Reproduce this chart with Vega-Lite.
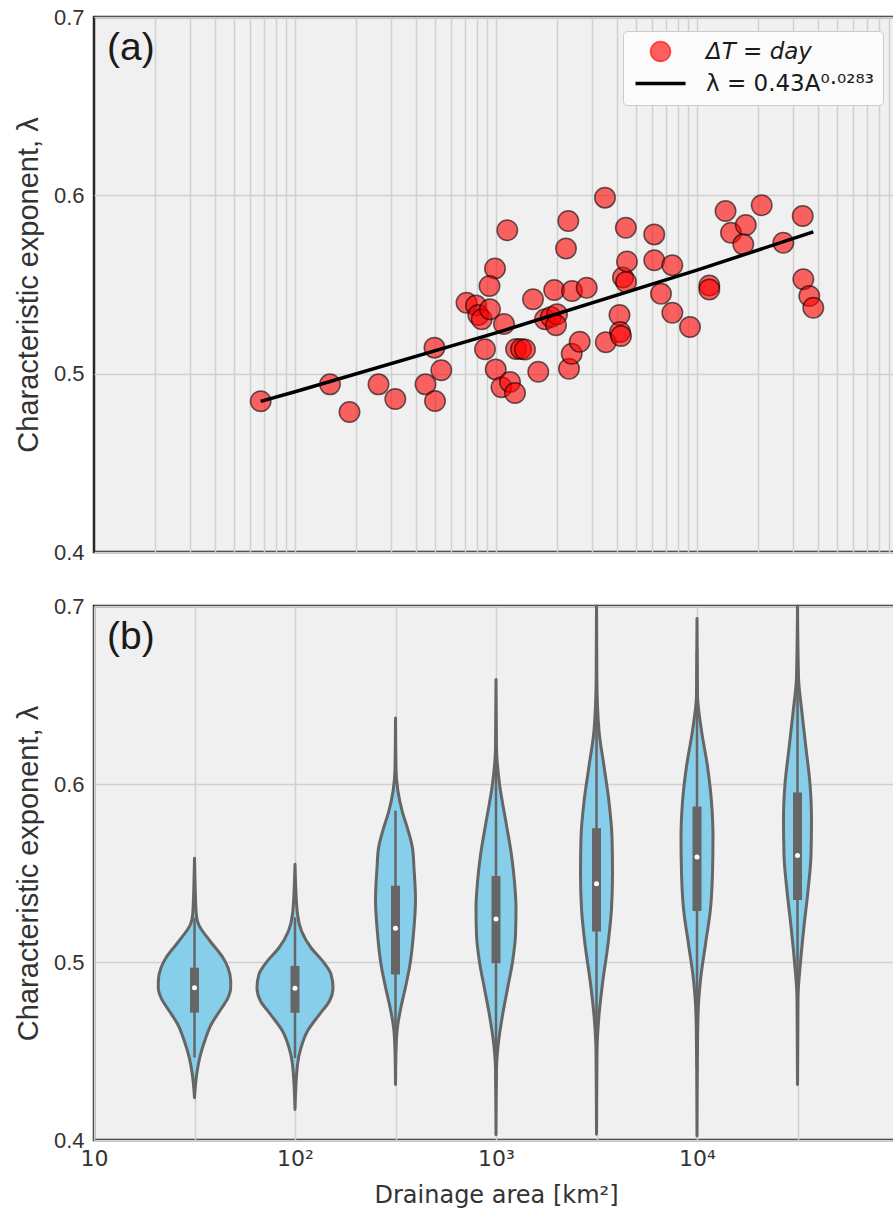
{
  "$schema": "https://vega.github.io/schema/vega-lite/v6.json",
  "padding": {"left": 13, "top": 4, "right": 0, "bottom": 4},
  "spacing": 28,
  "config": {
    "font": "Liberation Sans",
    "view": {"fill": "#f0f0f0", "stroke": "#262626", "strokeWidth": 2.5},
    "axis": {
      "gridColor": "#d0d0d0", "gridWidth": 1.5, "gridOpacity": 1,
      "ticks": false, "domain": false,
      "labelColor": "#333333", "titleColor": "#333333",
      "labelFont": "Liberation Sans", "titleFont": "Liberation Sans",
      "labelFontSize": 22, "titleFontSize": 29, "titleFontWeight": "normal"
    },
    "title": {"font": "Liberation Sans", "fontSize": 39, "fontWeight": "normal", "color": "#1a1a1a", "anchor": "start", "frame": "group", "baseline": "alphabetic", "offset": -62, "dx": 13}
  },
  "resolve": {"scale": {"color": "independent"}, "legend": {"color": "independent"}},
  "datasets": {
    "stations": [
      {"A": 67.5, "lam": 0.4845}, {"A": 149.3, "lam": 0.4940}, {"A": 186.7, "lam": 0.4785},
      {"A": 260.3, "lam": 0.4940}, {"A": 315.5, "lam": 0.4858}, {"A": 445.9, "lam": 0.4940},
      {"A": 497.2, "lam": 0.4847}, {"A": 534.3, "lam": 0.5019}, {"A": 494.3, "lam": 0.5146},
      {"A": 713.4, "lam": 0.5398}, {"A": 795.3, "lam": 0.5382}, {"A": 816.5, "lam": 0.5329},
      {"A": 849, "lam": 0.5305}, {"A": 933.4, "lam": 0.5361}, {"A": 1096, "lam": 0.5279},
      {"A": 988.6, "lam": 0.5590}, {"A": 928.2, "lam": 0.5492}, {"A": 1138, "lam": 0.5804},
      {"A": 881.7, "lam": 0.5137}, {"A": 996.6, "lam": 0.5024}, {"A": 1065, "lam": 0.4924},
      {"A": 1174, "lam": 0.4953}, {"A": 1243, "lam": 0.4892}, {"A": 1258, "lam": 0.5138},
      {"A": 1332, "lam": 0.5138}, {"A": 1394, "lam": 0.5136}, {"A": 1528, "lam": 0.5417},
      {"A": 1623, "lam": 0.5011}, {"A": 1753, "lam": 0.5305}, {"A": 1877, "lam": 0.5318},
      {"A": 2012, "lam": 0.5333}, {"A": 1989, "lam": 0.5271}, {"A": 1948, "lam": 0.5469},
      {"A": 2230, "lam": 0.5702}, {"A": 2289, "lam": 0.5856}, {"A": 2308, "lam": 0.5028},
      {"A": 2380, "lam": 0.5112}, {"A": 2389, "lam": 0.5464}, {"A": 2609, "lam": 0.5179},
      {"A": 2827, "lam": 0.5482}, {"A": 3485, "lam": 0.5987}, {"A": 3517, "lam": 0.5176},
      {"A": 4115, "lam": 0.5329}, {"A": 4139, "lam": 0.5234}, {"A": 4187, "lam": 0.5211},
      {"A": 4283, "lam": 0.5539}, {"A": 4435, "lam": 0.5514}, {"A": 4425, "lam": 0.5818},
      {"A": 4484, "lam": 0.5629}, {"A": 6127, "lam": 0.5781}, {"A": 6127, "lam": 0.5636},
      {"A": 6621, "lam": 0.5448}, {"A": 7538, "lam": 0.5608}, {"A": 7538, "lam": 0.5342},
      {"A": 9230, "lam": 0.5262}, {"A": 11514, "lam": 0.5494}, {"A": 11514, "lam": 0.5472},
      {"A": 13864, "lam": 0.5912}, {"A": 14761, "lam": 0.5790}, {"A": 17484, "lam": 0.5834},
      {"A": 16988, "lam": 0.5725}, {"A": 20986, "lam": 0.5944}, {"A": 26883, "lam": 0.5734},
      {"A": 33573, "lam": 0.5884}, {"A": 33806, "lam": 0.5529}, {"A": 36196, "lam": 0.5436},
      {"A": 37893, "lam": 0.5370}
    ],
    "fit": [
      {"A": 67.5, "lam": 0.48444}, {"A": 100, "lam": 0.48986}, {"A": 1000, "lam": 0.52284},
      {"A": 10000, "lam": 0.55805}, {"A": 37893, "lam": 0.57948}
    ],
    "violin": [
      {"A": 31.6228, "lam": 0.4238, "w": 0}, {"A": 31.6228, "lam": 0.4369, "w": 0.0109},
      {"A": 31.6228, "lam": 0.4462, "w": 0.0259}, {"A": 31.6228, "lam": 0.4556, "w": 0.0507},
      {"A": 31.6228, "lam": 0.4650, "w": 0.0836}, {"A": 31.6228, "lam": 0.4725, "w": 0.1254},
      {"A": 31.6228, "lam": 0.4799, "w": 0.1667}, {"A": 31.6228, "lam": 0.4856, "w": 0.1801},
      {"A": 31.6228, "lam": 0.4893, "w": 0.1801}, {"A": 31.6228, "lam": 0.4968, "w": 0.1667},
      {"A": 31.6228, "lam": 0.5024, "w": 0.1418}, {"A": 31.6228, "lam": 0.5118, "w": 0.0771},
      {"A": 31.6228, "lam": 0.5212, "w": 0.0199}, {"A": 31.6228, "lam": 0.5268, "w": 0.009},
      {"A": 31.6228, "lam": 0.5455, "w": 0.0025}, {"A": 31.6228, "lam": 0.5583, "w": 0},

      {"A": 100, "lam": 0.4172, "w": 0}, {"A": 100, "lam": 0.4425, "w": 0.0124},
      {"A": 100, "lam": 0.4519, "w": 0.0299}, {"A": 100, "lam": 0.4612, "w": 0.0622},
      {"A": 100, "lam": 0.4706, "w": 0.1219}, {"A": 100, "lam": 0.4781, "w": 0.1716},
      {"A": 100, "lam": 0.4856, "w": 0.1891}, {"A": 100, "lam": 0.4931, "w": 0.1791},
      {"A": 100, "lam": 0.5006, "w": 0.1368}, {"A": 100, "lam": 0.5080, "w": 0.0796},
      {"A": 100, "lam": 0.5174, "w": 0.0323}, {"A": 100, "lam": 0.5268, "w": 0.0124},
      {"A": 100, "lam": 0.5455, "w": 0.0025}, {"A": 100, "lam": 0.5549, "w": 0},

      {"A": 316.228, "lam": 0.4312, "w": 0}, {"A": 316.228, "lam": 0.45, "w": 0.0025},
      {"A": 316.228, "lam": 0.4636, "w": 0.01}, {"A": 316.228, "lam": 0.4747, "w": 0.0274},
      {"A": 316.228, "lam": 0.4859, "w": 0.0498}, {"A": 316.228, "lam": 0.4970, "w": 0.0697},
      {"A": 316.228, "lam": 0.5193, "w": 0.092}, {"A": 316.228, "lam": 0.5349, "w": 0.0995},
      {"A": 316.228, "lam": 0.5528, "w": 0.092}, {"A": 316.228, "lam": 0.5639, "w": 0.0846},
      {"A": 316.228, "lam": 0.5751, "w": 0.0597}, {"A": 316.228, "lam": 0.5840, "w": 0.0348},
      {"A": 316.228, "lam": 0.6086, "w": 0.0025}, {"A": 316.228, "lam": 0.6371, "w": 0},

      {"A": 1000, "lam": 0.4029, "w": 0}, {"A": 1000, "lam": 0.44, "w": 0.0025},
      {"A": 1000, "lam": 0.455, "w": 0.0124}, {"A": 1000, "lam": 0.47, "w": 0.0323},
      {"A": 1000, "lam": 0.485, "w": 0.0572}, {"A": 1000, "lam": 0.50, "w": 0.0821},
      {"A": 1000, "lam": 0.515, "w": 0.097}, {"A": 1000, "lam": 0.53, "w": 0.0995},
      {"A": 1000, "lam": 0.545, "w": 0.092}, {"A": 1000, "lam": 0.56, "w": 0.0771},
      {"A": 1000, "lam": 0.58, "w": 0.0473}, {"A": 1000, "lam": 0.60, "w": 0.0174},
      {"A": 1000, "lam": 0.62, "w": 0.0025}, {"A": 1000, "lam": 0.6587, "w": 0},

      {"A": 3162.28, "lam": 0.4033, "w": 0}, {"A": 3162.28, "lam": 0.45, "w": 0.0025},
      {"A": 3162.28, "lam": 0.47, "w": 0.0124}, {"A": 3162.28, "lam": 0.49, "w": 0.0323},
      {"A": 3162.28, "lam": 0.51, "w": 0.0572}, {"A": 3162.28, "lam": 0.53, "w": 0.0746},
      {"A": 3162.28, "lam": 0.55, "w": 0.0796}, {"A": 3162.28, "lam": 0.57, "w": 0.0771},
      {"A": 3162.28, "lam": 0.59, "w": 0.0622}, {"A": 3162.28, "lam": 0.61, "w": 0.0373},
      {"A": 3162.28, "lam": 0.63, "w": 0.0124}, {"A": 3162.28, "lam": 0.66, "w": 0.0015},
      {"A": 3162.28, "lam": 0.70, "w": 0},

      {"A": 10000, "lam": 0.4022, "w": 0}, {"A": 10000, "lam": 0.44, "w": 0.0015},
      {"A": 10000, "lam": 0.47, "w": 0.005}, {"A": 10000, "lam": 0.49, "w": 0.0174},
      {"A": 10000, "lam": 0.51, "w": 0.0423}, {"A": 10000, "lam": 0.53, "w": 0.0672},
      {"A": 10000, "lam": 0.55, "w": 0.0771}, {"A": 10000, "lam": 0.57, "w": 0.0796},
      {"A": 10000, "lam": 0.59, "w": 0.0721}, {"A": 10000, "lam": 0.61, "w": 0.0522},
      {"A": 10000, "lam": 0.63, "w": 0.0224}, {"A": 10000, "lam": 0.65, "w": 0.0025},
      {"A": 10000, "lam": 0.693, "w": 0},

      {"A": 31622.8, "lam": 0.4312, "w": 0}, {"A": 31622.8, "lam": 0.45, "w": 0.001},
      {"A": 31622.8, "lam": 0.48, "w": 0.0025}, {"A": 31622.8, "lam": 0.50, "w": 0.0149},
      {"A": 31622.8, "lam": 0.52, "w": 0.0323}, {"A": 31622.8, "lam": 0.54, "w": 0.0522},
      {"A": 31622.8, "lam": 0.56, "w": 0.0672}, {"A": 31622.8, "lam": 0.58, "w": 0.0697},
      {"A": 31622.8, "lam": 0.60, "w": 0.0622}, {"A": 31622.8, "lam": 0.62, "w": 0.0423},
      {"A": 31622.8, "lam": 0.64, "w": 0.0224}, {"A": 31622.8, "lam": 0.66, "w": 0.005},
      {"A": 31622.8, "lam": 0.70, "w": 0}
    ],
    "summary": [
      {"A": 31.6228, "wlo": 0.4463, "whi": 0.5249, "q1": 0.4716, "q3": 0.4968, "med": 0.4856},
      {"A": 100, "wlo": 0.446, "whi": 0.525, "q1": 0.4715, "q3": 0.4978, "med": 0.4852},
      {"A": 316.228, "wlo": 0.455, "whi": 0.585, "q1": 0.4930, "q3": 0.5428, "med": 0.5189},
      {"A": 1000, "wlo": 0.43, "whi": 0.62, "q1": 0.4993, "q3": 0.5483, "med": 0.5242},
      {"A": 3162.28, "wlo": 0.43, "whi": 0.66, "q1": 0.5171, "q3": 0.5751, "med": 0.5439},
      {"A": 10000, "wlo": 0.44, "whi": 0.675, "q1": 0.5287, "q3": 0.5874, "med": 0.5590},
      {"A": 31622.8, "wlo": 0.45, "whi": 0.68, "q1": 0.5349, "q3": 0.5952, "med": 0.5599}
    ]
  },
  "vconcat": [
    {
      "width": 804,
      "height": 535,
      "title": {"text": "(a)"},
      "layer": [
        {
          "data": {"name": "stations"},
          "mark": {"type": "point", "filled": true, "size": 420, "fillOpacity": 0.6, "stroke": "#000000", "strokeOpacity": 0.6, "strokeWidth": 1.5},
          "encoding": {
            "x": {"field": "A", "type": "quantitative", "scale": {"type": "log", "domain": [10, 100000], "nice": false},
                  "axis": {"title": null, "labels": false, "grid": true,
                           "values": [20, 30, 40, 50, 60, 70, 80, 90, 100, 200, 300, 400, 500, 600, 700, 800, 900, 1000, 2000, 3000, 4000, 5000, 6000, 7000, 8000, 9000, 10000, 20000, 30000, 40000, 50000, 60000, 70000, 80000, 90000]}},
            "y": {"field": "lam", "type": "quantitative", "scale": {"domain": [0.4, 0.7], "nice": false, "zero": false},
                  "axis": {"title": "Characteristic exponent, λ", "values": [0.4, 0.5, 0.6, 0.7], "format": ".1f", "labelPadding": 10, "titlePadding": 10}},
            "color": {"datum": "ΔT = day", "type": "nominal",
                      "scale": {"domain": ["ΔT = day", "λ = 0.43A⁰·⁰²⁸³"], "range": ["#ff0000", "#000000"]},
                      "legend": {
                        "title": null, "orient": "none", "legendX": 529, "legendY": 14,
                        "fillColor": "#fbfbfb", "strokeColor": "#cccccc", "cornerRadius": 4,
                        "padding": 9, "rowPadding": 7, "symbolOffset": 17, "labelOffset": 34,
                        "symbolSize": 400, "labelFont": "DejaVu Sans", "labelFontSize": 23, "labelColor": "#1a1a1a",
                        "labelLimit": 400,
                        "encoding": {
                          "symbols": {
                            "shape": {"value": {"expr": "datum.value === 'ΔT = day' ? 'circle' : 'M-2.5,0L2.5,0'"}},
                            "fill": {"value": {"expr": "datum.value === 'ΔT = day' ? '#ff0000' : 'transparent'"}},
                            "stroke": {"value": "#000000"},
                            "strokeWidth": {"value": {"expr": "datum.value === 'ΔT = day' ? 1.5 : 3.5"}},
                            "opacity": {"value": 1},
                            "fillOpacity": {"value": 0.62},
                            "strokeOpacity": {"value": {"expr": "datum.value === 'ΔT = day' ? 0.65 : 1"}}
                          },
                          "labels": {
                            "fontStyle": {"value": {"expr": "datum.value === 'ΔT = day' ? 'italic' : 'normal'"}}
                          }
                        }
                      }}
          }
        },
        {
          "data": {"name": "fit"},
          "mark": {"type": "line", "strokeWidth": 3.5},
          "encoding": {
            "x": {"field": "A", "type": "quantitative"},
            "y": {"field": "lam", "type": "quantitative"},
            "color": {"datum": "λ = 0.43A⁰·⁰²⁸³", "type": "nominal"}
          }
        }
      ]
    },
    {
      "width": 804,
      "height": 534,
      "title": {"text": "(b)"},
      "encoding": {
        "x": {"type": "quantitative", "scale": {"type": "log", "domain": [10, 100000], "nice": false},
              "axis": {"title": "Drainage area [km²]", "titleFont": "DejaVu Sans", "titleFontSize": 24, "titlePadding": 14,
                       "labelFont": "DejaVu Sans", "labelFontSize": 22, "labelPadding": 8, "labelFlush": false, "labelOverlap": false,
                       "values": [10, 31.6228, 100, 316.228, 1000, 3162.28, 10000, 31622.8],
                       "labelExpr": "datum.value == 10 ? '10' : datum.value == 100 ? '10²' : datum.value == 1000 ? '10³' : datum.value == 10000 ? '10⁴' : ''"}},
        "y": {"type": "quantitative", "scale": {"domain": [0.4, 0.7], "nice": false, "zero": false},
              "axis": {"title": "Characteristic exponent, λ", "values": [0.4, 0.5, 0.6, 0.7], "format": ".1f", "labelPadding": 10, "titlePadding": 10}}
      },
      "layer": [
        {
          "data": {"name": "violin"},
          "transform": [
            {"calculate": "datum.A * pow(10, -datum.w)", "as": "lo"},
            {"calculate": "datum.A * pow(10, datum.w)", "as": "hi"}
          ],
          "mark": {"type": "area", "orient": "horizontal", "interpolate": "monotone", "fill": "#87ceeb", "stroke": "#666666", "strokeWidth": 3, "strokeJoin": "round", "fillOpacity": 1},
          "encoding": {
            "y": {"field": "lam"},
            "x": {"field": "lo"},
            "x2": {"field": "hi"},
            "detail": {"field": "A", "type": "nominal"}
          }
        },
        {
          "data": {"name": "summary"},
          "mark": {"type": "rule", "color": "#666666", "strokeWidth": 2.5},
          "encoding": {"x": {"field": "A"}, "y": {"field": "wlo"}, "y2": {"field": "whi"}}
        },
        {
          "data": {"name": "summary"},
          "mark": {"type": "rule", "color": "#666666", "strokeWidth": 9, "strokeCap": "butt"},
          "encoding": {"x": {"field": "A"}, "y": {"field": "q1"}, "y2": {"field": "q3"}}
        },
        {
          "data": {"name": "summary"},
          "mark": {"type": "point", "filled": true, "color": "#ffffff", "size": 25, "opacity": 1},
          "encoding": {"x": {"field": "A"}, "y": {"field": "med"}}
        }
      ]
    }
  ]
}
